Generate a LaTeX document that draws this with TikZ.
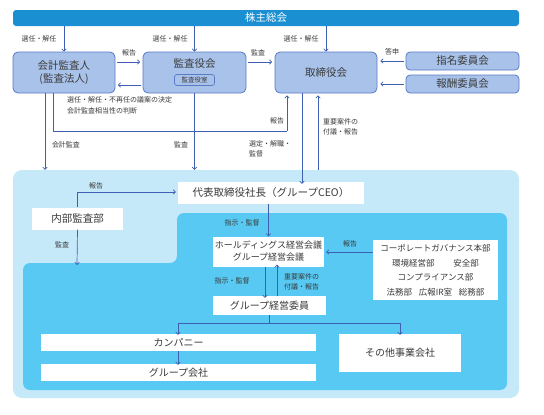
\documentclass[tikz,border=0pt]{standalone}
\usepackage{fontspec}
\setmainfont{Noto Sans CJK JP}
\usetikzlibrary{arrows.meta,calc}
\definecolor{barblue}{HTML}{1A8FD2}
\definecolor{boxfill}{HTML}{A9C2EA}
\definecolor{boxedge}{HTML}{5A7AC6}
\definecolor{arrc}{HTML}{3F5FB3}
\definecolor{txt}{HTML}{3A3A3A}
\definecolor{outerbg}{HTML}{C6E9F9}
\definecolor{innerbg}{HTML}{57C9F2}
\begin{document}
\begin{tikzpicture}[x=1pt,y=-1pt,
  topbox/.style={draw=boxedge, fill=boxfill, rounded corners=5pt, line width=0.8pt, text=txt, font=\fontsize{10.5}{13}\selectfont, align=center, inner sep=0pt},
  wbox/.style={fill=white, draw=none, text=txt, inner sep=0pt, align=center, font=\fontsize{10.5}{13}\selectfont},
  lab/.style={font=\fontsize{7}{10}\selectfont, text=txt, inner sep=0pt, align=left},
  arr/.style={draw=arrc, line width=0.7pt, -{Straight Barb[length=2.2pt,width=4.5pt]}},
  ln/.style={draw=arrc, line width=0.7pt}
]
\useasboundingbox (0,0) rectangle (544,415);
\fill[white] (0,0) rectangle (544,415);

% level coordinates
\coordinate (y62) at (0,62);
\coordinate (y85) at (0,85);
\coordinate (y131) at (0,131);
\coordinate (y192) at (0,192);
\coordinate (y252) at (0,252);
\coordinate (y323) at (0,323);
\coordinate (x45) at (45,0);
\coordinate (x53) at (53,0);
\coordinate (x287) at (287,0);
\coordinate (x302) at (302,0);
\coordinate (x318) at (318,0);
\coordinate (x265) at (265,0);
\coordinate (x277) at (277,0);
\coordinate (x178) at (178,0);
\coordinate (x400) at (400,0);

% top bar
\node[fill=barblue, rounded corners=3pt, minimum width=506, minimum height=16, inner sep=0pt, text=white, font=\fontsize{10.5}{12}\selectfont] (soukai) at (266,18) {株主総会};

% top boxes
\node[topbox, minimum width=102, minimum height=41] (kaikei) at (64,72.5) {会計監査人\\(監査法人)};
\node[topbox, minimum width=103, minimum height=41] (kansa) at (194.5,72.5) {};
\node[text=txt, font=\fontsize{10.5}{12}\selectfont, inner sep=0pt] (kansat) at (194.5,64) {監査役会};
\node[draw=boxedge, line width=0.7pt, rounded corners=2.5pt, minimum width=40, minimum height=11, inner sep=0pt, text=txt, font=\fontsize{6.5}{8}\selectfont] (kansashitsu) at (194.5,80) {監査役室};
\node[topbox, minimum width=102, minimum height=41] (tori) at (326,72.5) {取締役会};
\node[topbox, minimum width=113, minimum height=18, rounded corners=4pt] (shimei) at (462.5,61) {指名委員会};
\node[topbox, minimum width=113, minimum height=18, rounded corners=4pt] (houshu) at (462.5,84) {報酬委員会};

% group regions
\node[fill=outerbg, rounded corners=9pt, minimum width=506, minimum height=228, inner sep=0pt] (group) at (266,284) {};
\fill[innerbg, rounded corners=7pt] (177,213) -- (507,213) -- (507,390) -- (23,390) -- (23,263) -- (177,263) -- cycle;
\coordinate (innertop) at (77,263);

% white boxes
\node[wbox, minimum width=186, minimum height=22] (ceo) at (271,193) {代表取締役社長（グループCEO）};
\node[wbox, minimum width=91, minimum height=22] (naibu) at (77.5,218.5) {内部監査部};
\node[wbox, minimum width=111, minimum height=30, font=\fontsize{9}{12}\selectfont] (hd) at (268.5,251.5) {ホールディングス経営会議\\グループ経営会議};
\node[wbox, minimum width=125, minimum height=60, font=\fontsize{8.5}{14.5}\selectfont] (cg) at (435.5,270) {コーポレートガバナンス本部\\環境経営部\hspace{2.2em}安全部\\コンプライアンス部\\法務部\hspace{0.8em}広報IR室\hspace{0.8em}総務部};
\node[wbox, minimum width=113, minimum height=19, font=\fontsize{10}{12}\selectfont] (gkeiei) at (269.5,305.5) {グループ経営委員};
\node[wbox, minimum width=275, minimum height=17, font=\fontsize{10}{12}\selectfont] (company) at (178.5,342.5) {カンパニー};
\node[wbox, minimum width=275, minimum height=17, font=\fontsize{10}{12}\selectfont] (groupco) at (178.5,372.5) {グループ会社};
\node[wbox, minimum width=122, minimum height=38, font=\fontsize{10}{12}\selectfont] (sonota) at (400,353) {その他事業会社};

% arrows from top bar
\draw[arr] (soukai.south -| kaikei) -- (kaikei.north);
\draw[arr] (soukai.south -| kansa) -- (kansa.north);
\draw[arr] (soukai.south -| tori) -- (tori.north);
\node[lab] at (39,39) {選任・解任};
\node[lab] at (170,39) {選任・解任};
\node[lab] at (301,39) {選任・解任};

% horizontal arrows top row
\draw[arr, shorten <=2pt, shorten >=2.5pt] (kaikei.east |- y62) -- (kansa.west |- y62);
\draw[arr, shorten <=2pt, shorten >=2.5pt] (kansa.west |- y85) -- (kaikei.east |- y85);
\draw[arr, shorten <=2pt, shorten >=2.5pt] (kansa.east |- y62) -- (tori.west |- y62);
\draw[arr, shorten <=2pt, shorten >=3pt] (shimei.west) -- (tori.east |- shimei.west);
\draw[arr, shorten <=2pt, shorten >=3pt] (houshu.west) -- (tori.east |- houshu.west);
\node[lab] at (129,53) {報告};
\node[lab] at (258,53) {監査};
\node[lab] at (392,52) {答申};
\node[lab, anchor=west, font=\fontsize{7}{11}\selectfont] at (67,105) {選任・解任・不再任の議案の決定\\会計監査相当性の判断};

% vertical connectors to group
\draw[arr] (kaikei.south -| x45) -- (group.north -| x45);
\node[lab] at (66,145) {会計監査};
\draw[ln] (kaikei.south -| x53) -- (x53 |- y131) -- (x287 |- y131);
\draw[arr] (x287 |- y131) -- ([yshift=-2pt]tori.south -| x287);
\node[lab] at (277,121) {報告};
\draw[arr] (kansa.south) -- (group.north -| kansa);
\node[lab] at (181,145) {監査};
\draw[arr] (tori.south -| x302) -- ([yshift=-2pt]ceo.north -| x302);
\node[lab, anchor=west, font=\fontsize{7}{10}\selectfont] at (249,149) {選定・解職・\\監督};
\draw[arr] (group.north -| x318) -- ([yshift=-2pt]tori.south -| x318);
\node[lab, anchor=west, font=\fontsize{7}{10}\selectfont] at (323,126.5) {重要案件の\\付議・報告};

% inside group
\draw[ln] (naibu.north) -- (naibu.north |- y192);
\draw[arr] (naibu.north |- y192) -- ([xshift=-2pt]ceo.west |- y192);
\node[lab] at (96,186) {報告};
\draw[arr] (naibu.south) -- ([yshift=-2pt]innertop);
\node[lab] at (62,245) {監査};

\draw[arr] (ceo.south -| hd) -- (hd.north);
\node[lab] at (242,223) {指示・監督};
\draw[arr] (cg.west |- y252) -- ([xshift=2pt]hd.east |- y252);
\node[lab] at (350,244) {報告};
\draw[arr] (hd.south -| x265) -- ([yshift=-2pt]gkeiei.north -| x265);
\node[lab] at (232,281) {指示・監督};
\draw[arr] (gkeiei.north -| x277) -- ([yshift=2pt]hd.south -| x277);
\node[lab, anchor=west, font=\fontsize{7}{10}\selectfont] at (284,281.5) {重要案件の\\付議・報告};

\draw[ln] (gkeiei.south) -- (gkeiei.south |- y323);
\draw[ln] (x178 |- y323) -- (x400 |- y323);
\draw[arr] (x178 |- y323) -- ([yshift=-1pt]company.north -| x178);
\draw[arr] (x400 |- y323) -- ([yshift=-1pt]sonota.north);
\draw[arr] (company.south -| x178) -- ([yshift=-1pt]groupco.north -| x178);
\end{tikzpicture}
\end{document}
